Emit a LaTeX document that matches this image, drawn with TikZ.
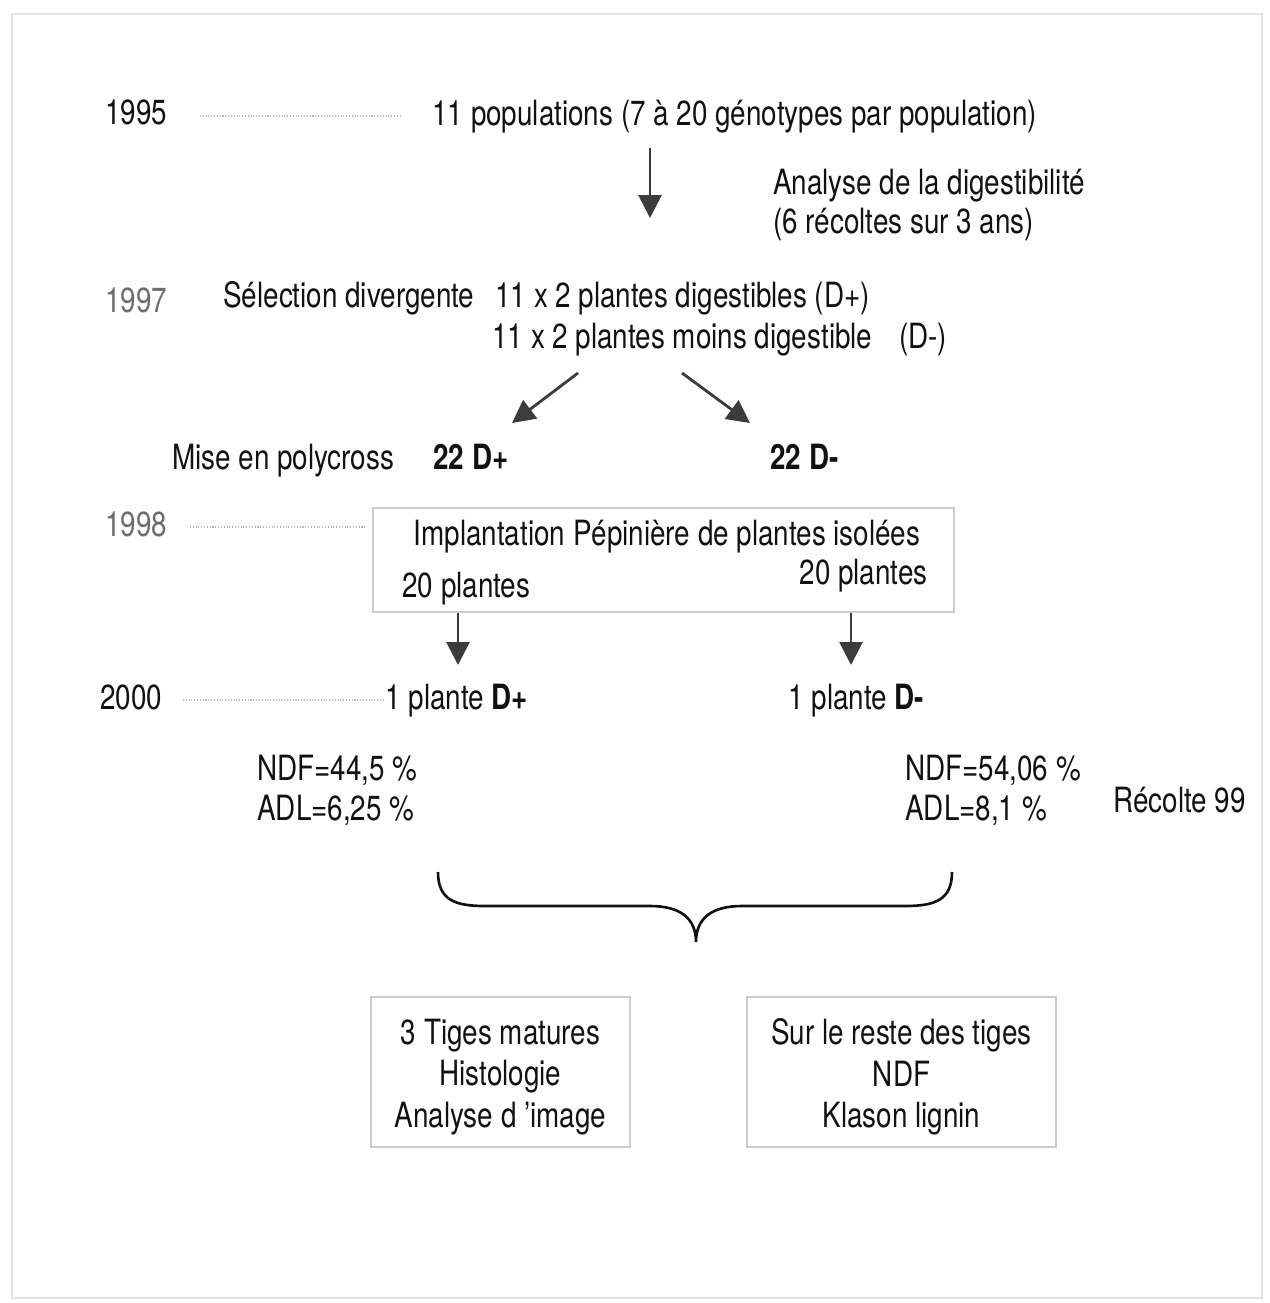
\documentclass[tikz,border=0pt]{standalone}
\usepackage{fontspec}
\setmainfont{TeX Gyre Heros}[FakeStretch=0.8]
\usetikzlibrary{arrows.meta}
\definecolor{inkgray}{HTML}{111111}
\definecolor{arrowgray}{HTML}{3C3C3C}
\begin{document}
\begin{tikzpicture}[x=0.02cm, y=-0.02cm,
	every node/.style={text=inkgray, inner sep=0pt, font=\fontsize{19.8}{23.5}\selectfont},
	txt/.style={anchor=base west},
	year/.style={anchor=base west},
	timeline/.style={gray!55, line width=0.6pt, densely dotted},
	flow/.style={arrowgray, line width=1.6pt, -{Triangle[length=13pt, width=13pt]}},
	boxline/.style={draw=gray!40, line width=1.2pt, inner sep=0pt}]
	\useasboundingbox (0,0) rectangle (1270,1303);
	\draw [gray!20, line width=0.8pt] (12,14) rectangle (1262,1298);

	% 1995
	\node (y95) [year] at (105,124.5) {1995};
	\node (pop) [txt] at (432,125) {11 populations (7 à 20 génotypes par population)};
	\draw [timeline] (200,116) -- (400,116);
	\node (ana) [txt] at (773,194) {Analyse de la digestibilité};
	\node (rec) [txt] at (773,233) {(6 récoltes sur 3 ans)};
	\coordinate (a1) at (650,148);
	\coordinate (a2) at (650,218);
	\draw [flow] (a1) -- (a2);

	% 1997
	\node (y97) [year, text=gray!85!black] at (105,312) {1997};
	\node (sel) [txt] at (223,307) {Sélection divergente};
	\node (dig) [txt] at (495,307) {11 x 2 plantes digestibles (D+)};
	\node (moins) [txt] at (492,348) {11 x 2 plantes moins digestible};
	\node (dm) [txt] at (899,348) {(D-)};
	\coordinate (b1) at (578,373);
	\coordinate (b2) at (512,423);
	\coordinate (c1) at (682,373);
	\coordinate (c2) at (750,423);
	\draw [flow] (b1) -- (b2);
	\draw [flow] (c1) -- (c2);
	\node (poly) [txt] at (172,469) {Mise en polycross};
	\node (dplus) [txt] at (433,469) {\textbf{22 D+}};
	\node (dminus) [txt] at (770,469) {\textbf{22 D-}};

	% 1998
	\node (y98) [year, text=gray!85!black] at (105,536) {1998};
	\draw [timeline] (190,527) -- (365,527);
	\node (pep) [boxline, draw, minimum width=11.62cm, minimum height=2.08cm] at (663.5,560) {};
	\node (imp) [anchor=base] at (667,545) {Implantation Pépinière de plantes isolées};
	\node (vingt1) [txt] at (402,597) {20 plantes};
	\node (vingt2) [anchor=base east] at (928,584) {20 plantes};
	\coordinate (d2) at (458,665);
	\coordinate (e2) at (851,665);
	\draw [flow] (pep.south -| d2) -- (d2);
	\draw [flow] (pep.south -| e2) -- (e2);

	% 2000
	\node (y00) [year] at (100,709) {2000};
	\draw [timeline] (183,700) -- (385,700);
	\node (pplus) [txt] at (385,709) {1 plante \textbf{D+}};
	\node (pminus) [txt] at (788,709) {1 plante \textbf{D-}};
	\node (ndf1) [txt] at (257,780) {NDF=44,5 \%};
	\node (adl1) [txt] at (257,820) {ADL=6,25 \%};
	\node (ndf2) [txt] at (905,780) {NDF=54,06 \%};
	\node (adl2) [txt] at (905,820) {ADL=8,1 \%};
	\node (r99) [txt] at (1113,812) {Récolte 99};

	% accolade
	\coordinate (tip) at (696,942);
	\draw [inkgray, line width=1.5pt] (438,872) .. controls (438,900) and (455,906) .. (485,906)
		-- (650,906) .. controls (680,906) and (696,918) .. (tip)
		.. controls (696,918) and (712,906) .. (742,906)
		-- (905,906) .. controls (935,906) and (952,900) .. (952,872);

	% analyses
	\node (tiges) [boxline, draw, minimum width=5.18cm, minimum height=3cm] at (500.5,1072) {};
	\node (tigestxt) [align=center, yshift=-0.1cm] at (tiges.center) {3 Tiges matures\\Histologie\\Analyse d 'image};
	\node (reste) [boxline, draw, minimum width=6.18cm, minimum height=3cm] at (901.5,1072) {};
	\node (restetxt) [align=center, yshift=-0.1cm] at (reste.center) {Sur le reste des tiges\\NDF\\Klason lignin};
\end{tikzpicture}
\end{document}
